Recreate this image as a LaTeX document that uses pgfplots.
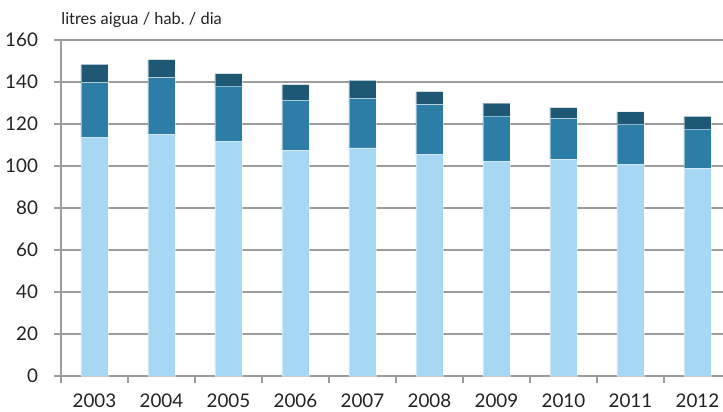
\documentclass[border=0pt]{standalone}
\usepackage{pgfplots}
\pgfplotsset{compat=1.18}
\usepackage{fontspec}
\setmainfont{Lato}
\definecolor{cLight}{HTML}{A6D7F3}
\definecolor{cMid}{HTML}{2D7EA6}
\definecolor{cDark}{HTML}{1E5874}
\definecolor{cGrid}{HTML}{9C9C9C}
\definecolor{cText}{HTML}{222222}
\frenchspacing
\begin{document}
\begin{tikzpicture}
\begin{axis}[
  at={(0,0)}, anchor=south west,
  scale only axis, width=335pt, height=168pt,
  ybar stacked, bar width=13.5pt,
  xmin=-0.5, xmax=9.5, ymin=0, ymax=160,
  ytick={0,20,...,160},
  xtick={-0.5,0.5,...,8.5},
  xticklabels={2003,2004,2005,2006,2007,2008,2009,2010,2011,2012},
  xticklabel style={xshift=16.75pt, yshift=-2pt},
  yticklabel style={xshift=-4.5pt},
  axis x line=bottom, axis y line=left,
  axis line style={draw=cGrid, line width=1pt, -},
  ymajorgrids, grid style={draw=cGrid, line width=1.1pt},
  tick align=outside, major tick length=3.5pt,
  tick style={draw=cGrid, line width=1pt},
  ticklabel style={font=\fontsize{9.4}{11}\selectfont, text=cText},
  /pgf/number format/assume math mode=true,
  clip=false,
]
\addplot[fill=cLight, draw=white, draw opacity=0.45, line width=0.4pt] coordinates {
 (0,113.8) (1,115.0) (2,111.9) (3,107.5) (4,108.6) (5,105.4) (6,102.3) (7,103.1) (8,100.8) (9,98.9)};
\addplot[fill=cMid, draw=white, draw opacity=0.45, line width=0.4pt] coordinates {
 (0,25.9) (1,27.1) (2,26.1) (3,23.8) (4,23.6) (5,23.8) (6,21.4) (7,19.5) (8,19.1) (9,18.7)};
\addplot[fill=cDark, draw=white, draw opacity=0.45, line width=0.4pt] coordinates {
 (0,8.7) (1,8.6) (2,6.0) (3,7.5) (4,8.6) (5,6.2) (6,6.3) (7,5.2) (8,5.9) (9,6.0)};
\end{axis}
\node[anchor=base west, inner sep=0pt, text=cText, font=\fontsize{8.2}{10}\selectfont] at (0pt,175.5pt) {litres aigua / hab. / dia};
\pgfresetboundingbox
\path[use as bounding box] (-30.5pt,-18pt) rectangle (331pt,188pt);
\end{tikzpicture}
\end{document}
